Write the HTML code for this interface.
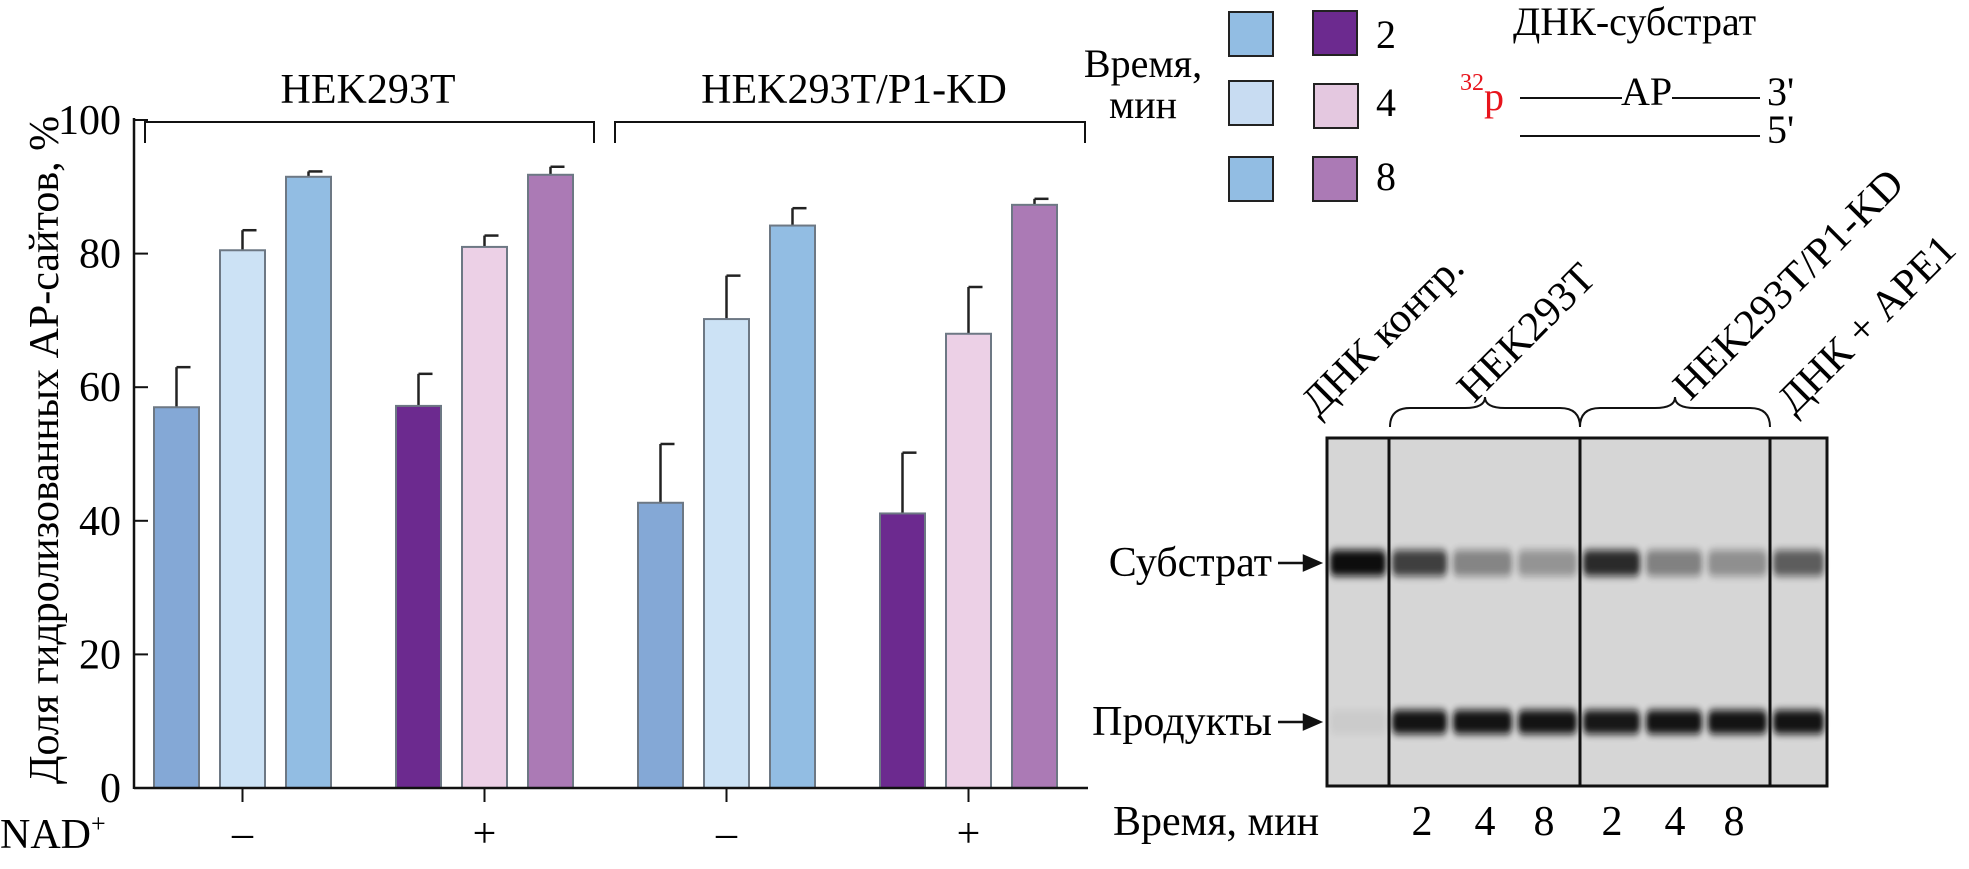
<!DOCTYPE html>
<html><head><meta charset="utf-8"><style>
body{margin:0;background:#fff;}
svg, svg text, svg tspan{font-family:"Liberation Serif","DejaVu Serif","Noto Serif CJK SC",serif;}
</style></head><body>
<svg id="fig" width="1969" height="864" viewBox="0 0 1969 864" xmlns="http://www.w3.org/2000/svg" font-family="Liberation Serif, DejaVu Serif, serif">
<defs>
<filter id="blur" x="-20%" y="-200%" width="140%" height="500%"><feGaussianBlur stdDeviation="3 4"/></filter>
</defs>
<g id="chart"></g>
<g id="legend">
  <text x="1143" y="77" font-size="40" text-anchor="middle">Время,</text>
  <text x="1143" y="118" font-size="40" text-anchor="middle">мин</text>
  <rect x="1229" y="12" width="44" height="44" fill="#92bde3" stroke="#222" stroke-width="2"/>
  <rect x="1229" y="81" width="44" height="44" fill="#c8dcf2" stroke="#222" stroke-width="2"/>
  <rect x="1229" y="157" width="44" height="44" fill="#92bde3" stroke="#222" stroke-width="2"/>
  <rect x="1313" y="11" width="44" height="44" fill="#6c2a8f" stroke="#222" stroke-width="2"/>
  <rect x="1314" y="84" width="44" height="44" fill="#e4c8e0" stroke="#222" stroke-width="2"/>
  <rect x="1313" y="157" width="44" height="44" fill="#ab7ab5" stroke="#222" stroke-width="2"/>
  <text x="1376" y="48" font-size="40">2</text>
  <text x="1376" y="116" font-size="40">4</text>
  <text x="1376" y="190" font-size="40">8</text>
</g>
<g id="substrate">
  <text x="1513" y="35" font-size="40">ДНК-субстрат</text>
  <text x="1460" y="110" font-size="40" fill="#e8141c"><tspan font-size="24" dy="-20">32</tspan><tspan dy="20">p</tspan></text>
  <line x1="1520" y1="98" x2="1622" y2="98" stroke="#111" stroke-width="2"/>
  <text x="1621" y="105" font-size="40">AP</text>
  <line x1="1672" y1="98" x2="1760" y2="98" stroke="#111" stroke-width="2"/>
  <text x="1767" y="105" font-size="40">3'</text>
  <line x1="1520" y1="136" x2="1760" y2="136" stroke="#111" stroke-width="2"/>
  <text x="1767" y="143" font-size="40">5'</text>
</g>
<g id="gel"></g>
</svg>
<script>
// ---- bar chart data ----
const groups = ["HEK293T NAD-", "HEK293T NAD+", "P1-KD NAD-", "P1-KD NAD+"];
const times = ["2", "4", "8"];
const values_g1 = [57.0, 80.5, 91.5];
const values_g2 = [57.2, 81.0, 91.8];
const values_g3 = [42.7, 70.2, 84.2];
const values_g4 = [41.1, 68.0, 87.3];
const errors_g1 = [6.0, 3.0, 0.8];
const errors_g2 = [4.8, 1.7, 1.2];
const errors_g3 = [8.8, 6.5, 2.6];
const errors_g4 = [9.1, 7.0, 0.9];
const yTicks = [0, 20, 40, 60, 80, 100];
const nadLabels = ["–", "+", "–", "+"];
// gel band intensities (0..1)
const gelLanes = ["control","H2","H4","H8","K2","K4","K8","APE1"];
const substrateBand = [1.0, 0.75, 0.4, 0.32, 0.85, 0.42, 0.35, 0.6];
const productBand = [0.05, 0.97, 0.97, 0.97, 0.95, 0.97, 0.97, 0.97];
const gelTimes = ["2","4","8","2","4","8"];

const NS = "http://www.w3.org/2000/svg";
function mk(parent, tag, attrs, text){const e=document.createElementNS(NS,tag);for(const k in attrs)e.setAttribute(k,attrs[k]);if(text!==undefined)e.textContent=text;parent.appendChild(e);return e;}

const chart = document.getElementById('chart');
const X0 = 134, X1 = 1088, Y0 = 788, Y100 = 120;
const yScale = v => Y0 - (v/100)*(Y0-Y100);
const groupX = i => 154 + i*242;
const barX = (g,j) => groupX(g) + j*66;
const BW = 45;
const allVals = [values_g1, values_g2, values_g3, values_g4];
const allErr = [errors_g1, errors_g2, errors_g3, errors_g4];
const colors = [["#84a8d6","#cce2f5","#92bde3"],["#6c2a8f","#ecd0e6","#ab7ab5"],["#84a8d6","#cce2f5","#92bde3"],["#6c2a8f","#ecd0e6","#ab7ab5"]];

yTicks.forEach(t=>{
  const y=yScale(t);
  const tk=mk(chart,'line',{x1:X0,y1:y,x2:X0+14,y2:y,stroke:'#111','stroke-width':2});
  
  
  const lb=mk(chart,'text',{x:121,y:y+14,'font-size':42,'text-anchor':'end'},String(t));
  
  
});
allVals.forEach((vals,g)=>{
  vals.forEach((v,j)=>{
    const x=barX(g,j), y=yScale(v);
    const eT=yScale(v+allErr[g][j]);
    const el=mk(chart,'line',{x1:x+BW/2,y1:y,x2:x+BW/2,y2:eT,stroke:'#222','stroke-width':2.5});
    
    
    const cap=mk(chart,'line',{x1:x+BW/2,y1:eT,x2:x+BW/2+14,y2:eT,stroke:'#222','stroke-width':2.5});
    
    
    const r=mk(chart,'rect',{x:x,y:y,width:BW,height:Y0-y,fill:colors[g][j],stroke:'#6d7884','stroke-width':2});
    
    
  });
  const cx=barX(g,1)+BW/2;
  const xt=mk(chart,'line',{x1:cx,y1:Y0,x2:cx,y2:Y0+14,stroke:'#111','stroke-width':2});
  
  
  const nl=mk(chart,'text',{x:cx,y:847,'font-size':42,'text-anchor':'middle'},nadLabels[g]);
  
  
});
const ya=mk(chart,'line',{x1:X0,y1:Y100-2,x2:X0,y2:Y0+1,stroke:'#111','stroke-width':2.5});


const xa=mk(chart,'line',{x1:X0,y1:Y0,x2:X1,y2:Y0,stroke:'#111','stroke-width':2.5});


const yt=mk(chart,'text',{x:0,y:0,'font-size':42,'text-anchor':'middle',transform:'translate(58,450) rotate(-90)'},'Доля гидролизованных AP-сайтов, %');


const nad=mk(chart,'text',{x:0,y:848,'font-size':42},'NAD');


mk(nad,'tspan',{'font-size':26,dy:-16},'+');
const b1=mk(chart,'path',{d:'M145,143 V122 H594 V143',fill:'none',stroke:'#111','stroke-width':2});


const b2=mk(chart,'path',{d:'M615,143 V122 H1085 V143',fill:'none',stroke:'#111','stroke-width':2});


const g1l=mk(chart,'text',{x:368,y:103,'font-size':42,'text-anchor':'middle'},'HEK293T');


const g2l=mk(chart,'text',{x:854,y:103,'font-size':42,'text-anchor':'middle'},'HEK293T/P1-KD');



// ---- gel ----
const gel=document.getElementById('gel');
const GL=1327, GT=438, GR=1827, GB=786;
const laneEdges=[1327,1389,1450,1515,1580,1643,1705,1770,1827];
const bg=mk(gel,'rect',{x:GL,y:GT,width:GR-GL,height:GB-GT,fill:'#d6d6d6'});


gelLanes.forEach((ln,i)=>{
  const x=laneEdges[i]+3, w=laneEdges[i+1]-laneEdges[i]-6;
  const s=substrateBand[i];
  const sb=mk(gel,'rect',{x:x,y:563-13,width:w,height:26,rx:6,fill:'#111',opacity:s,filter:'url(#blur)'});
  
  
  const p=productBand[i];
  const pb=mk(gel,'rect',{x:x,y:722-12,width:w,height:24,rx:6,fill:'#111',opacity:p,filter:'url(#blur)'});
  
  
});
const frame=mk(gel,'rect',{x:GL,y:GT,width:GR-GL,height:GB-GT,fill:'none',stroke:'#111','stroke-width':3});


[1389,1580,1770].forEach(x=>{
  const d=mk(gel,'line',{x1:x,y1:GT,x2:x,y2:GB,stroke:'#111','stroke-width':3});
  
  
});
function brace(x1,x2,name){
  const m=(x1+x2)/2, y=427, t=397;
  const p=mk(gel,'path',{d:`M${x1},${y} Q${x1},408 ${x1+20},408 H${m-20} Q${m},408 ${m},${t} Q${m},408 ${m+20},408 H${x2-20} Q${x2},408 ${x2},${y}`,fill:'none',stroke:'#111','stroke-width':2});
  
  
}
brace(1390,1580,'brace-hek293t');
brace(1580,1770,'brace-p1kd');
[["ДНК контр.",1318,418,'lane-label-control'],["HEK293T",1474,404,'lane-label-hek293t'],["HEK293T/P1-KD",1690,402,'lane-label-p1kd'],["ДНК + APE1",1794,416,'lane-label-ape1']].forEach(a=>{
  const t=mk(gel,'text',{x:0,y:0,'font-size':42,transform:`translate(${a[1]},${a[2]}) rotate(-45)`},a[0]);
  
  
});
const sl=mk(gel,'text',{x:1272,y:576,'font-size':42,'text-anchor':'end'},'Субстрат');


const pl=mk(gel,'text',{x:1272,y:735,'font-size':42,'text-anchor':'end'},'Продукты');


[[563,'substrate-arrow'],[722,'products-arrow']].forEach(a=>{
  const ar=mk(gel,'path',{d:`M1278,${a[0]} H1312 M1304,${a[0]-7} L1320,${a[0]} L1304,${a[0]+7} Z`,stroke:'#111','stroke-width':2.5,fill:'#111'});
  
  
});
const tl=mk(gel,'text',{x:1113,y:835,'font-size':42},'Время, мин');


const tx=[1422,1485,1544,1612,1675,1734];
gelTimes.forEach((t,i)=>{
  const e=mk(gel,'text',{x:tx[i],y:835,'font-size':42,'text-anchor':'middle'},t);
  
  
});
</script>
</body></html>
